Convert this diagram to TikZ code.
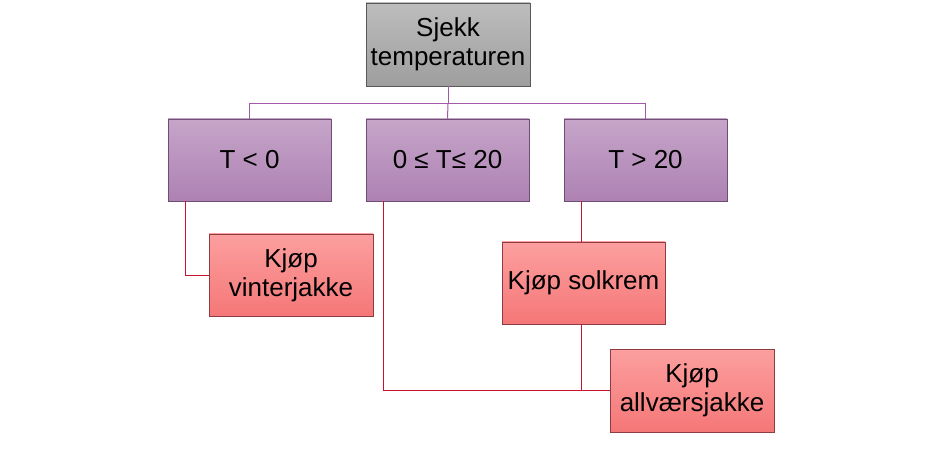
\documentclass[tikz,border=0pt]{standalone}
\usepackage{fontspec}
\setmainfont{Liberation Sans}
\begin{document}
\begin{tikzpicture}[x=1pt,y=-1pt,
  boxbase/.style={rectangle,draw,line width=0.9pt,align=center,inner sep=0pt,
    minimum width=163pt,minimum height=82pt,font=\fontsize{26}{29}\selectfont},
  graybox/.style={boxbase,draw=black!65,top color=black!26,bottom color=black!38},
  purplebox/.style={boxbase,draw=purplebd,top color=purpletop,bottom color=purplebot},
  redbox/.style={boxbase,draw=redbd,top color=redtop,bottom color=redbot},
  pline/.style={draw=purpleln,line width=1pt},
  rline/.style={draw=redln,line width=1pt}]
\definecolor{purpletop}{HTML}{C6A5C9}
\definecolor{purplebot}{HTML}{AD82B3}
\definecolor{purplebd}{HTML}{6E4E73}
\definecolor{purpleln}{HTML}{A05AA8}
\definecolor{redtop}{HTML}{FC9F9F}
\definecolor{redbot}{HTML}{F57777}
\definecolor{redbd}{HTML}{8E3C44}
\definecolor{redln}{HTML}{C8142E}
\useasboundingbox (0,0) rectangle (937,449);
\fill[white] (0,0) rectangle (937,449);

\node[graybox,minimum width=164pt,minimum height=83pt] (top) at (448,44.5) {Sjekk\\temperaturen};
\node[purplebox] (t1) at (249.5,160) {T < 0};
\node[purplebox] (t2) at (447.5,160) {0 ≤ T≤ 20};
\node[purplebox] (t3) at (645.5,160) {T > 20};
\node[redbox,minimum width=164pt] (v) at (291,275) {Kjøp\\vinterjakke};
\node[redbox] (s) at (583.5,283) {Kjøp solkrem};
\node[redbox,minimum width=164pt,minimum height=83pt] (a) at (692,390.5) {Kjøp\\allværsjakke};

\draw[pline] (top.south) -- ++(0,17) coordinate (b);
\draw[pline] (t1.north) |- (b) -| (t3.north);
\draw[pline] (b) -- (t2.north);

\coordinate (c1) at ([xshift=-64.5pt]t1.south);
\coordinate (c2) at ([xshift=-64.5pt]t2.south);
\coordinate (c3) at ([xshift=-64.5pt]t3.south);
\draw[rline] (c1) |- (v.west);
\draw[rline] (c2) |- (a.west);
\draw[rline] (c3) -- (c3 |- s.north);
\draw[rline] (c3 |- s.south) -- (c3 |- a.west);
\end{tikzpicture}
\end{document}
